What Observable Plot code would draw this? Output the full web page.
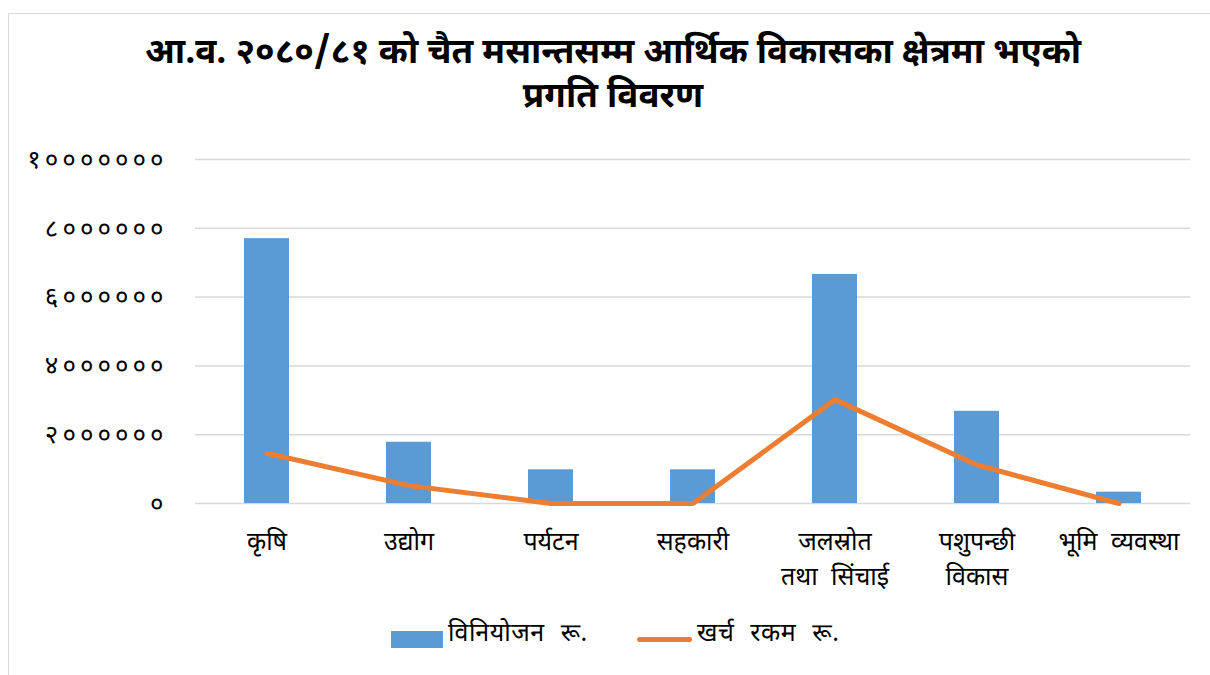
<!DOCTYPE html>
<html>
<head>
<meta charset="utf-8">
<script src="https://cdn.jsdelivr.net/npm/d3@7"></script>
<script src="https://cdn.jsdelivr.net/npm/@observablehq/plot@0.6"></script>
<style>
  html, body { margin: 0; padding: 0; background: #fff; }
  #wrap { position: relative; width: 1210px; height: 675px; overflow: hidden; font-family: "Noto Sans Devanagari", "Noto Sans", sans-serif; }
  #frame { position: absolute; left: 8px; top: 13px; width: 1240px; height: 700px; border: 1.5px solid #d9d9d9; box-sizing: border-box; }
  #title { position: absolute; left: 0; top: 33px; width: 1226px; text-align: center; font-weight: bold; font-size: 35px; line-height: 44px; color: #000; }
  #chart { position: absolute; left: 0; top: 140px; }
  .lg { position: absolute; font-size: 25px; color: #000; line-height: 1; word-spacing: 9px; letter-spacing: 0.5px; white-space: nowrap; }
  #chart g[aria-label="y-axis tick label"] text { letter-spacing: 4px; }
  #chart g[aria-label="x-axis tick label"] text { word-spacing: 7px; }
</style>
</head>
<body>
<div id="wrap">
  <div id="frame"></div>
  <div id="title">आ.व. २०८०/८१ को चैत मसान्तसम्म आर्थिक विकासका क्षेत्रमा भएको<br>प्रगति विवरण</div>
  <div id="chart"></div>
  <div class="lg" style="left:391px; top:631px; width:52px; height:17px; background:#5b9bd5;"></div>
  <div class="lg" id="lg1" style="left:448px; top:623px;">विनियोजन रू.</div>
  <div class="lg" style="left:637px; top:637px; width:55px; height:5px; border-radius:3px; background:#ed7d31;"></div>
  <div class="lg" id="lg2" style="left:697px; top:623px;">खर्च रकम रू.</div>
</div>
<script>
const categories = ["कृषि", "उद्योग", "पर्यटन", "सहकारी", "जलस्रोत\nतथा सिंचाई", "पशुपन्छी\nविकास", "भूमि व्यवस्था"];
const allocation = [7700000, 1780000, 980000, 980000, 6660000, 2680000, 330000];   // विनियोजन रू.
const expenditure = [1460000, 520000, 0, 0, 3020000, 1120000, 0];                  // खर्च रकम रू.
const yTicks = [0, 2000000, 4000000, 6000000, 8000000, 10000000];
const yTickLabels = ["०", "२००००००", "४००००००", "६००००००", "८००००००", "१०००००००"];

const rows = categories.map((c, i) => ({cat: c, alloc: allocation[i], exp: expenditure[i]}));

const chart = Plot.plot({
  width: 1210,
  height: 463,
  marginTop: 19,
  marginBottom: 100,
  marginLeft: 195,
  marginRight: 20,
  style: {fontFamily: '"Noto Sans Devanagari", "Noto Sans", sans-serif', background: "transparent", color: "#000"},
  x: {domain: categories, paddingInner: 0.68, paddingOuter: 0.34, label: null},
  y: {domain: [0, 10000000], label: null},
  marks: [
    Plot.gridY(yTicks, {stroke: "#d9d9d9", strokeOpacity: 1, strokeWidth: 1.5}),
    Plot.barY(rows, {x: "cat", y: "alloc", fill: "#5b9bd5"}),
    Plot.lineY(rows, {x: "cat", y: "exp", stroke: "#ed7d31", strokeWidth: 5, strokeLinecap: "round", strokeLinejoin: "round"}),
    Plot.axisY(yTicks, {tickSize: 0, tickPadding: 28, fontSize: 26, fill: "#000",
      tickFormat: d => yTickLabels[yTicks.indexOf(d)]}),
    Plot.axisX({tickSize: 0, tickPadding: 22, fontSize: 25, lineHeight: 1.4, fill: "#000"})
  ]
});
document.getElementById("chart").appendChild(chart);
</script>
</body>
</html>
